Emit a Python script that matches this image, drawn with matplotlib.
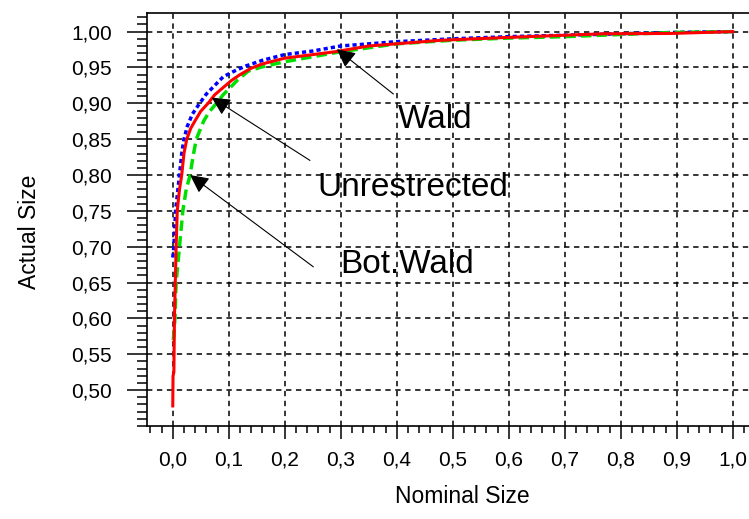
import matplotlib.pyplot as plt
from matplotlib.ticker import MultipleLocator, FuncFormatter

plt.rcParams['font.family'] = ['Liberation Sans', 'DejaVu Sans']

# Unrestrected (red)
unr_x = [0.0, 0.0005, 0.002, 0.003, 0.006, 0.008, 0.012, 0.016, 0.02, 0.025, 0.032,
         0.04, 0.05, 0.063, 0.075, 0.09, 0.105, 0.12, 0.14, 0.16, 0.2, 0.25, 0.29,
         0.35, 0.48, 0.6, 0.7, 0.77, 0.89, 1.0]
unr_y = [0.478, 0.52, 0.525, 0.60, 0.70, 0.75, 0.78, 0.80, 0.83, 0.85, 0.865,
         0.876, 0.889, 0.90, 0.912, 0.922, 0.932, 0.94, 0.949, 0.955, 0.963, 0.968, 0.972,
         0.98, 0.988, 0.992, 0.995, 0.997, 0.9975, 1.0]
# Wald (blue)
wald_x = [0.0, 0.002, 0.005, 0.012, 0.016, 0.02, 0.026, 0.035, 0.048, 0.06, 0.075,
          0.09, 0.11, 0.13, 0.16, 0.2, 0.25, 0.3, 0.4, 0.5, 0.6, 0.7, 0.8, 0.9, 1.0]
wald_y = [0.685, 0.70, 0.75, 0.80, 0.83, 0.85, 0.868, 0.885, 0.90, 0.913, 0.925,
          0.937, 0.945, 0.952, 0.96, 0.968, 0.973, 0.98, 0.986, 0.99, 0.993, 0.995, 0.997, 0.999, 1.0]
# Bot.Wald (green)
bot_x = [0.001, 0.004, 0.006, 0.012, 0.018, 0.024, 0.031, 0.036, 0.042, 0.055, 0.065,
         0.078, 0.09, 0.1, 0.115, 0.135, 0.16, 0.2, 0.25, 0.3, 0.4, 0.5, 0.6, 0.7,
         0.8, 0.9, 1.0]
bot_y = [0.57, 0.60, 0.65, 0.70, 0.75, 0.78, 0.80, 0.825, 0.85, 0.875, 0.888,
         0.90, 0.912, 0.92, 0.932, 0.945, 0.951, 0.958, 0.965, 0.972, 0.983, 0.988, 0.991, 0.993,
         0.996, 0.999, 1.0]

fig = plt.figure(figsize=(7.49, 5.19), dpi=100)
ax = fig.add_axes([147/749, 1 - 426/519, 602/749, 413/519])

ax.plot(wald_x, wald_y, color='#0000ff', lw=2.5, dashes=(1.2, 0.9))
ax.plot(bot_x, bot_y, color='#00e000', lw=2.5, dashes=(3, 1.5))
ax.plot(unr_x, unr_y, color='#ff0000', lw=2.2)

ax.set_xlim(-0.046, 1.029)
ax.set_ylim(0.45, 1.026)

ax.xaxis.set_minor_locator(MultipleLocator(0.02))
ax.yaxis.set_minor_locator(MultipleLocator(0.01))
ax.set_xticks([i / 10 for i in range(11)])
ax.set_yticks([0.5 + i * 0.05 for i in range(11)])
ax.xaxis.set_major_formatter(FuncFormatter(lambda v, p: f"{v:.1f}".replace('.', ',')))
ax.yaxis.set_major_formatter(FuncFormatter(lambda v, p: f"{v:.2f}".replace('.', ',')))

ax.tick_params(axis='x', which='major', direction='out', length=9.4, width=1.1, pad=8, labelsize=15)
ax.tick_params(axis='x', which='minor', direction='out', length=5, width=1.1)
ax.tick_params(axis='y', which='major', direction='out', length=14.4, width=1.1, pad=11, labelsize=15)
ax.tick_params(axis='y', which='minor', direction='out', length=7.2, width=1.1)

ax.grid(True, which='major', color='black', lw=1.1, dashes=(3.5, 3))
ax.spines['right'].set_visible(False)
for s in ['left', 'bottom', 'top']:
    ax.spines[s].set_linewidth(1.2)

ax.set_xlabel('Nominal Size', fontsize=16.5)
ax.set_ylabel('Actual Size', fontsize=16.5)
ax.xaxis.set_label_coords(0.523, -0.143)
ax.yaxis.set_label_coords(-0.176, 0.47)

arrow = dict(arrowstyle='-|>', color='black', lw=0.8, mutation_scale=28,
             shrinkA=0, shrinkB=0)
ax.annotate('', xy=(0.293, 0.9755), xytext=(0.394, 0.913), arrowprops=arrow)
ax.annotate('', xy=(0.0696, 0.908), xytext=(0.245, 0.8204), arrowprops=arrow)
ax.annotate('', xy=(0.031, 0.80), xytext=(0.251, 0.672), arrowprops=arrow)
ax.text(0.402, 0.877, 'Wald', fontsize=24, va='center', ha='left')
ax.text(0.259, 0.783, 'Unrestrected', fontsize=24, va='center', ha='left')
ax.text(0.299, 0.675, 'Bot.Wald', fontsize=24, va='center', ha='left')

fig.savefig('out.png', dpi=100)
